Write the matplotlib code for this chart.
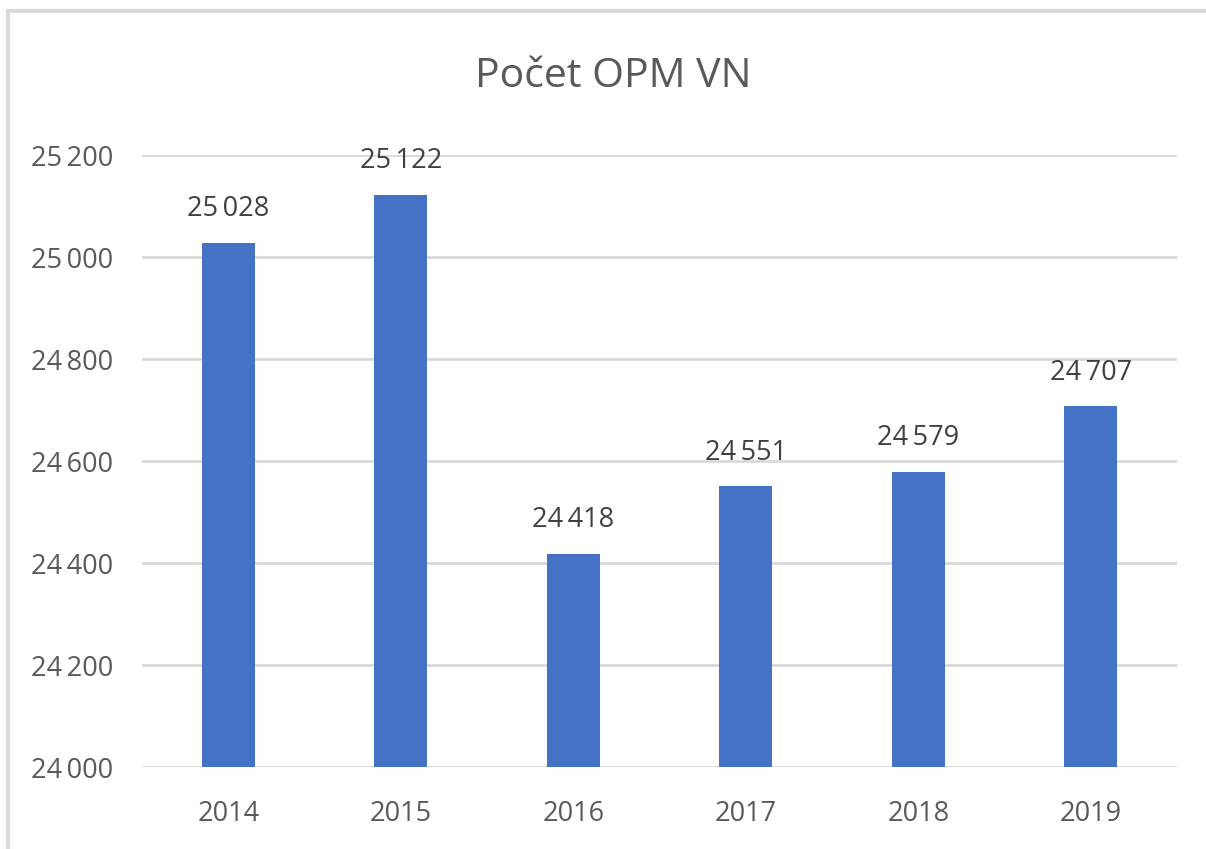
import matplotlib
matplotlib.use("Agg")
import matplotlib.pyplot as plt
from matplotlib.patches import Rectangle
from matplotlib.ticker import FuncFormatter

years = ["2014", "2015", "2016", "2017", "2018", "2019"]
values = [25028, 25122, 24418, 24551, 24579, 24707]
yticks = [24000, 24200, 24400, 24600, 24800, 25000, 25200]

plt.rcParams['font.family'] = ['Open Sans', 'DejaVu Sans']

def fmt(v):
    return f"{int(v):,}".replace(",", "\u2009")

fig = plt.figure(figsize=(12.06, 8.49), dpi=100)
fig.patches.append(Rectangle((8/1206, -0.1), 1.2, 1 - 11/849 + 0.1, transform=fig.transFigure,
                             fill=False, edgecolor="#d9d9d9", linewidth=3))
ax = fig.add_axes([142/1206, 1 - 767/849, (1177 - 142)/1206, (767 - 155)/849])

x = range(len(years))
bars = ax.bar(x, values, width=0.31, color="#4472c4", zorder=3)
ax.set_xlim(-0.5, len(years) - 0.5)
ax.set_ylim(24000, 25200)
ax.set_yticks(yticks)
ax.yaxis.set_major_formatter(FuncFormatter(lambda v, p: fmt(v)))
ax.set_xticks(list(x))
ax.set_xticklabels(years)
ax.grid(axis="y", color="#d9d9d9", linewidth=2, zorder=0)
for s in ax.spines.values():
    s.set_visible(False)
ax.tick_params(axis="both", length=0, labelsize=19.5, colors="#595959")
ax.tick_params(axis="y", pad=21)
ax.tick_params(axis="x", pad=24)

for b, v in zip(bars, values):
    ax.annotate(fmt(v), (b.get_x() + b.get_width() / 2, v), xytext=(0, 14),
                textcoords="offset points", ha="center", va="bottom",
                fontsize=19.5, color="#404040")

fig.text(613/1206, 1 - 77/849, "Počet OPM VN", ha="center", va="center",
         fontsize=29.5, color="#595959")

fig.savefig("out.png", dpi=100)
